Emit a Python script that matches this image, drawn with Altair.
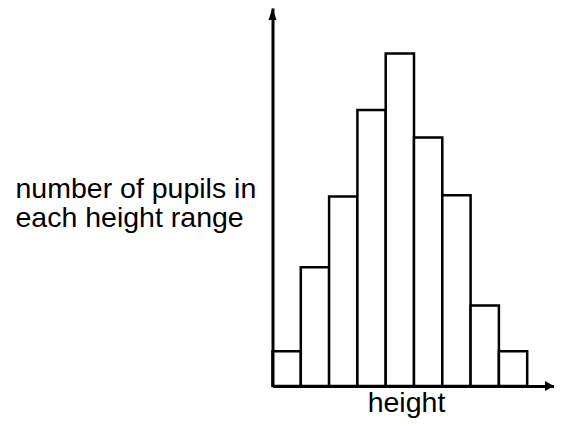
import altair as alt
import pandas as pd

# Histogram: number of pupils in each height range (arbitrary units)
bin_start = [0, 1, 2, 3, 4, 5, 6, 7, 8]
bin_end = [1, 2, 3, 4, 5, 6, 7, 8, 9]
counts = [2.9, 9.9, 15.8, 23, 27.7, 20.7, 15.9, 6.7, 2.9]

x_title = "height"
y_title = ["number of pupils in", "each height range"]

X_MAX = 9.947
Y_MAX = 31.5

df = pd.DataFrame({"start": bin_start, "end": bin_end, "count": counts})

xs = alt.Scale(domain=[0, X_MAX], nice=False, zero=False)
ys = alt.Scale(domain=[0, Y_MAX], nice=False)

FONT = "Liberation Sans"
FS = 28.5

x_axis = alt.Axis(
    title=x_title, labels=False, ticks=False, grid=False,
    domainColor="black", domainWidth=3, zindex=1,
    titleFont=FONT, titleFontSize=FS, titleFontWeight="normal", titleColor="black",
    titleX=133.5, titleY=25, titleAlign="center", titleBaseline="alphabetic",
)
y_axis = alt.Axis(
    title=y_title, labels=False, ticks=False, grid=False,
    domainColor="black", domainWidth=3, zindex=1,
    titleFont=FONT, titleFontSize=FS, titleFontWeight="normal", titleColor="black",
    titleAngle=0, titleAlign="left", titleBaseline="alphabetic",
    titleX=-257.5, titleY=189, titleLineHeight=29.5,
)

bars = alt.Chart(df).mark_rect(fill="white", stroke="black", strokeWidth=2.5).encode(
    x=alt.X("start:Q", scale=xs, axis=x_axis),
    x2="end:Q",
    y=alt.Y("count:Q", scale=ys, axis=y_axis),
    y2=alt.datum(0),
)

y_arrow = alt.Chart(pd.DataFrame({"x": [0], "y": [Y_MAX]})).mark_point(
    shape="M0,0 L-4,12 L4,12 Z", size=4, filled=True, color="black", opacity=1, strokeWidth=0
).encode(x=alt.X("x:Q", scale=xs, axis=x_axis), y=alt.Y("y:Q", scale=ys, axis=y_axis))

x_arrow = alt.Chart(pd.DataFrame({"x": [X_MAX], "y": [0]})).mark_point(
    shape="M0,0 L-9,-5 L-9,5 Z", size=4, filled=True, color="black", opacity=1, strokeWidth=0
).encode(x=alt.X("x:Q", scale=xs, axis=x_axis), y=alt.Y("y:Q", scale=ys, axis=y_axis))

chart = alt.layer(bars, y_arrow, x_arrow).properties(
    width=281.5, height=378,
    background="white",
    autosize=alt.AutoSizeParams(type="none"),
    padding={"left": 264.5, "top": 0, "right": 0, "bottom": 32},
).configure_view(strokeWidth=0, stroke="transparent").configure_axis(grid=False)

chart.save("out.html", embed_options={"renderer": "svg", "actions": False})
